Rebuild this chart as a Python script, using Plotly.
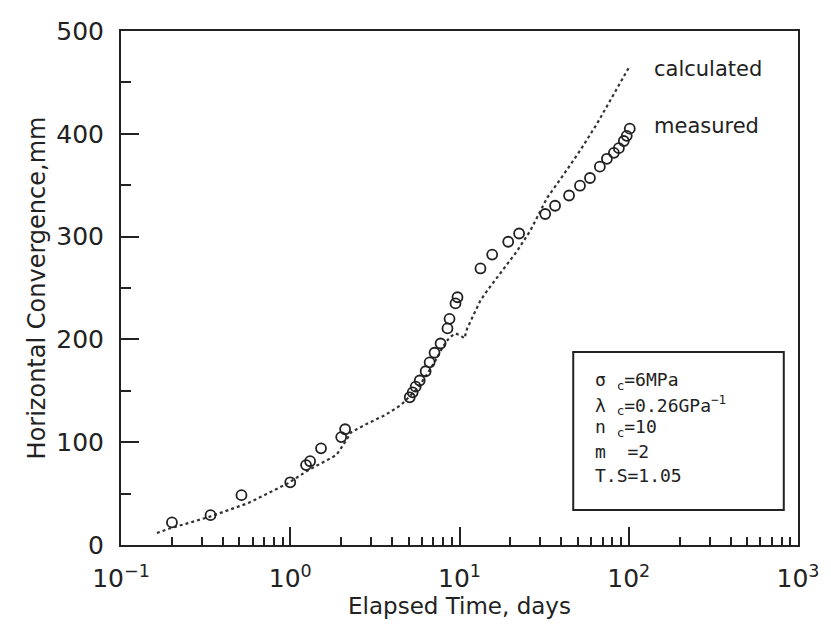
import plotly.graph_objects as go

# measured convergence (days, mm)
meas_t = [0.20, 0.338, 0.515, 1.0, 1.24, 1.31, 1.52, 2.0, 2.11,
          5.08, 5.29, 5.51, 5.82, 6.31, 6.66, 7.12, 7.73, 8.49, 8.73, 9.47, 9.73,
          13.3, 15.6, 19.4, 22.5, 32.1, 36.7, 44.4, 51.5, 59.0, 67.5, 74.3,
          81.7, 87.4, 93.5, 97.3, 101.4]
meas_u = [22, 29, 48.5, 61, 77.7, 81.5, 94, 105, 112.6,
          143.7, 148.5, 154, 160, 169, 177.7, 187, 196, 210.7, 220, 235, 241,
          269, 282.5, 295, 303, 322, 330, 340, 349.5, 357, 368, 375.7,
          381.5, 386, 393, 398, 405]

# calculated convergence (days, mm)
calc_t = [0.163, 0.197, 0.251, 0.330, 0.432, 0.566, 0.743, 0.973, 1.28, 1.52,
          1.87, 2.05, 2.29, 2.88, 3.62, 4.50, 5.66, 6.48, 7.22, 7.94, 8.73,
          9.47, 10.1, 10.7, 11.1, 12.2, 13.3, 14.6, 16.7, 21.9, 26.2, 33.0,
          41.5, 51.5, 64.9, 81.7, 101.4]
calc_u = [11.7, 16.5, 21.4, 27.2, 34, 40.8, 50.5, 60.2, 72.8, 79.6,
          87.4, 97, 109.7, 118.4, 126.2, 136, 152.4, 167, 179.6, 192.2, 202,
          205.8, 203.9, 201, 210.7, 225, 237.9, 247.6, 260, 286, 305.8, 337.9,
          361, 383.5, 409.7, 438.8, 466]

x_tickvals = [0.1, 1, 10, 100, 1000]
x_ticktext = ["10<sup>−1</sup>", "10<sup>0</sup>", "10<sup>1</sup>", "10<sup>2</sup>", "10<sup>3</sup>"]
x_minor = [m * d for d in [0.1, 1, 10, 100] for m in range(2, 10)]
y_tickvals = [0, 100, 200, 300, 400, 500]
y_minor = [50, 150, 250, 350, 450]

params = ["σ <sub>c</sub>=6MPa", "λ <sub>c</sub>=0.26GPa<sup>−1</sup>",
          "n <sub>c</sub>=10", "m  =2", "T.S=1.05"]

fig = go.Figure()
fig.add_trace(go.Scatter(x=calc_t, y=calc_u, mode="lines",
                         line=dict(color="#333333", width=2.2, dash="dot"),
                         showlegend=False))
fig.add_trace(go.Scatter(x=meas_t, y=meas_u, mode="markers",
                         marker=dict(symbol="circle-open", size=10, color="#222222",
                                     line=dict(width=1.8, color="#222222")),
                         showlegend=False))

fig.add_annotation(x=2.135, y=463, xref="x", yref="y", text="calculated",
                   showarrow=False, xanchor="left",
                   font=dict(family="DejaVu Sans", size=21, color="#222222"))
fig.add_annotation(x=2.135, y=408, xref="x", yref="y", text="measured",
                   showarrow=False, xanchor="left",
                   font=dict(family="DejaVu Sans", size=21, color="#222222"))

fig.add_shape(type="rect", xref="paper", yref="paper", x0=0.668, x1=0.979,
              y0=0.068, y1=0.3755, line=dict(color="#222222", width=2),
              fillcolor="white")
ys = [0.319, 0.272, 0.228, 0.181, 0.136]
for t, yy in zip(params, ys):
    fig.add_annotation(x=0.697, y=yy, xref="paper", yref="paper", text=t,
                       showarrow=False, xanchor="left", yanchor="middle",
                       font=dict(family="DejaVu Sans Mono", size=18, color="#222222"))

fig.update_layout(
    width=831, height=631,
    margin=dict(l=121, r=27, t=31, b=86),
    paper_bgcolor="white", plot_bgcolor="white",
    font=dict(family="DejaVu Sans", color="#222222"),
)
fig.update_xaxes(type="log", range=[-1, 3], tickmode="array",
                 tickvals=x_tickvals, ticktext=x_ticktext,
                 ticks="inside", ticklen=18, tickwidth=1.8, tickcolor="#222222",
                 minor=dict(tickmode="array", tickvals=x_minor, ticks="inside",
                            ticklen=8, tickwidth=1.5, tickcolor="#222222", showgrid=False),
                 showline=True, linewidth=2, linecolor="#222222", mirror=True,
                 showgrid=False, zeroline=False, ticklabelstandoff=10,
                 tickfont=dict(size=25),
                 title=dict(text="Elapsed Time, days", font=dict(size=23), standoff=6))
fig.update_yaxes(range=[0, 500], tickmode="array", tickvals=y_tickvals,
                 ticks="inside", ticklen=18, tickwidth=1.8, tickcolor="#222222",
                 minor=dict(tickmode="array", tickvals=y_minor, ticks="inside",
                            ticklen=10, tickwidth=1.5, tickcolor="#222222", showgrid=False),
                 showline=True, linewidth=2, linecolor="#222222", mirror=True,
                 showgrid=False, zeroline=False, ticklabelstandoff=10,
                 tickfont=dict(size=25),
                 title=dict(text="Horizontal Convergence,mm", font=dict(size=24), standoff=4))

fig.write_html("out.html")
